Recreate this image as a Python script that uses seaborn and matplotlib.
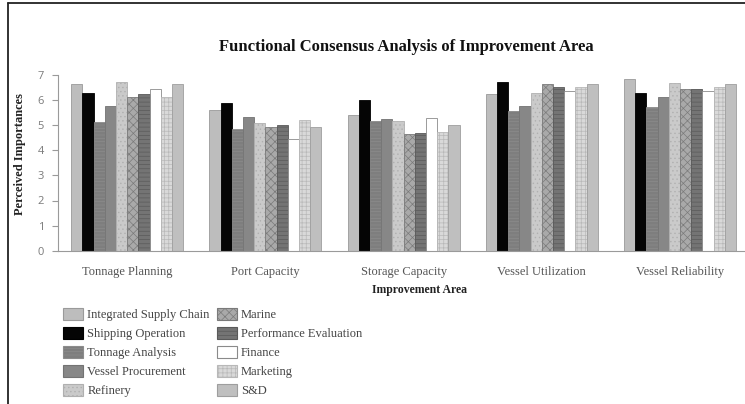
import matplotlib
matplotlib.use("Agg")
import matplotlib.pyplot as plt
import seaborn as sns
import pandas as pd
from matplotlib.patches import Patch
from matplotlib.lines import Line2D

# Improvement areas (x categories)
categories = ["Tonnage Planning", "Port Capacity", "Storage Capacity",
              "Vessel Utilization", "Vessel Reliability"]

# Business functions (hue levels)
functions = ["Integrated Supply Chain", "Shipping Operation", "Tonnage Analysis",
             "Vessel Procurement", "Refinery", "Marine", "Performance Evaluation",
             "Finance", "Marketing", "S&D"]

# Mean perceived importance per function, one value per improvement area
integrated_supply_chain = [6.63, 5.60, 5.41, 6.23, 6.84]
shipping_operation = [6.30, 5.90, 6.00, 6.71, 6.27]
tonnage_analysis = [5.11, 4.86, 5.18, 5.58, 5.74]
vessel_procurement = [5.78, 5.34, 5.25, 5.78, 6.12]
refinery = [6.71, 5.09, 5.17, 6.30, 6.69]
marine = [6.14, 4.94, 4.64, 6.63, 6.45]
performance_evaluation = [6.23, 5.01, 4.70, 6.53, 6.44]
finance = [6.44, 4.45, 5.30, 6.36, 6.36]
marketing = [6.14, 5.21, 4.73, 6.53, 6.53]
s_and_d = [6.63, 4.94, 5.00, 6.63, 6.63]

series = [integrated_supply_chain, shipping_operation, tonnage_analysis,
          vessel_procurement, refinery, marine, performance_evaluation,
          finance, marketing, s_and_d]

rows = []
for name, vals in zip(functions, series):
    for area, v in zip(categories, vals):
        rows.append({"area": area, "function": name, "score": v})
df = pd.DataFrame(rows)

# (face, edge, hatch) for each function
styles = [
    ("#bdbdbd", "#9a9a9a", None),
    ("#050505", "#000000", None),
    ("#7e7e7e", "#8c8c8c", "-----"),
    ("#878787", "#737373", None),
    ("#cacaca", "#b0b0b0", "...."),
    ("#a9a9a9", "#7a7a7a", "xxxx"),
    ("#747474", "#5a5a5a", "----"),
    ("#ffffff", "#8a8a8a", None),
    ("#d9d9d9", "#b8b8b8", "++++"),
    ("#bfbfbf", "#9e9e9e", None),
]

sns.set_theme(style="white")
plt.rcParams["font.family"] = ["Liberation Serif", "DejaVu Serif"]
plt.rcParams["hatch.linewidth"] = 0.5

W, H = 745, 404
fig = plt.figure(figsize=(W / 100, H / 100), dpi=100)
ax = fig.add_axes([58 / W, 1 - 250.7 / H, (745 - 58) / W, 175.7 / H])

sns.barplot(data=df, x="area", y="score", hue="function",
            order=categories, hue_order=functions,
            palette=[s[0] for s in styles], saturation=1,
            width=0.81, legend=False, ax=ax)

for cont, (face, edge, hatch) in zip(ax.containers, styles):
    for bar in cont:
        bar.set_facecolor(face)
        bar.set_edgecolor(edge)
        bar.set_linewidth(0.6)
        if hatch:
            bar.set_hatch(hatch)

ax.set_ylim(0, 7)
ax.set_xlim(-0.5, 4.47)
ax.set_yticks(range(0, 8))

for side in ("top", "right"):
    ax.spines[side].set_visible(False)
ax.spines["left"].set_color("#9a9a9a")
ax.spines["left"].set_linewidth(0.8)
ax.spines["bottom"].set_color("#9a9a9a")
ax.spines["bottom"].set_linewidth(0.8)

ax.tick_params(axis="y", which="major", left=True, length=4, width=0.8,
               color="#9a9a9a", pad=6, labelcolor="#7a7a7a", labelsize=8)
for lab in ax.get_yticklabels():
    lab.set_family(["Open Sans", "DejaVu Sans"])
ax.tick_params(axis="x", bottom=False, pad=4.8, labelcolor="#555555", labelsize=9)

ax.set_xlabel("")
ax.set_ylabel("Perceived Importances", fontsize=9, fontweight="bold",
              color="#222222")
ax.yaxis.set_label_coords(-0.046, 0.55)

fig.text(406 / W, 1 - 47 / H, "Functional Consensus Analysis of Improvement Area",
         ha="center", va="center", fontsize=12, fontweight="bold", color="#111111")
fig.text(420 / W, 1 - 290 / H, "Improvement Area", ha="center", va="center",
         fontsize=8.5, fontweight="bold", color="#222222")

handles = [Patch(facecolor=f, edgecolor=e, hatch=h, linewidth=0.8)
           for f, e, h in styles]
leg = fig.legend(handles, functions, ncol=2, loc="upper left",
                 bbox_to_anchor=(58 / W, 1 - 303 / H), frameon=False,
                 fontsize=9, handlelength=1.6, handleheight=1.1,
                 handletextpad=0.35, labelspacing=0.45, columnspacing=0.55,
                 borderaxespad=0)
for t in leg.get_texts():
    t.set_color("#444444")

# page frame: left and top rules
fig.add_artist(Line2D([8 / W, 8 / W], [0, 1 - 3 / H], transform=fig.transFigure,
                      color="#222222", linewidth=1.3))
fig.add_artist(Line2D([8 / W, 1], [1 - 3 / H, 1 - 3 / H], transform=fig.transFigure,
                      color="#222222", linewidth=1.3))

fig.savefig("out.png", dpi=100)
